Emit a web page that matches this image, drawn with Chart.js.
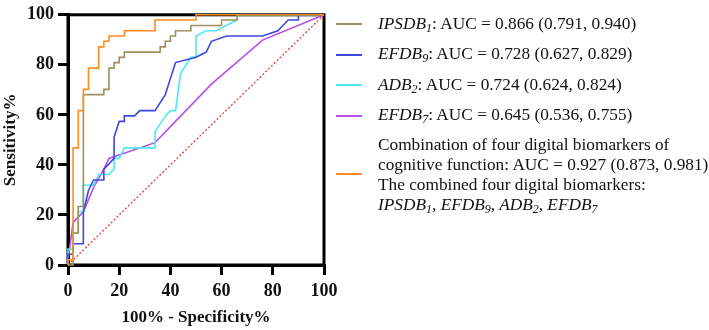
<!DOCTYPE html>
<html>
<head>
<meta charset="utf-8">
<script src="https://cdn.jsdelivr.net/npm/chart.js@4"></script>
<style>
  body { margin: 0; background: #fff; }
  #wrap { position: relative; width: 709px; height: 330px; }
  #legend { position: absolute; left: 0; top: 0; font-family: "Liberation Serif", serif; font-size: 17.3px; color: #111; }
  .row { position: absolute; left: 378px; line-height: 20px; white-space: nowrap; }
  .sw { position: absolute; left: 336px; width: 26px; height: 2px; }
  sub { font-size: 12px; vertical-align: -3px; line-height: 0; }
</style>
</head>
<body>
<div id="wrap">
  <canvas id="roc"></canvas>
  <div id="legend">
    <div class="sw" style="top:23px;background:#a08f5c"></div>
    <div class="row" style="top:14px"><i>IPSDB<sub>1</sub></i>: AUC = 0.866 (0.791, 0.940)</div>
    <div class="sw" style="top:54px;background:#3f48e0"></div>
    <div class="row" style="top:44px"><i>EFDB<sub>9</sub></i>: AUC = 0.728 (0.627, 0.829)</div>
    <div class="sw" style="top:84px;background:#4de8f5"></div>
    <div class="row" style="top:75px"><i>ADB<sub>2</sub></i>: AUC = 0.724 (0.624, 0.824)</div>
    <div class="sw" style="top:115px;background:#b84ee8"></div>
    <div class="row" style="top:105px"><i>EFDB<sub>7</sub></i>: AUC = 0.645 (0.536, 0.755)</div>
    <div class="sw" style="top:173px;background:#ff8c21"></div>
    <div class="row" style="top:135px">Combination of four digital biomarkers of<br>cognitive function: AUC = 0.927 (0.873, 0.981)<br>The combined four digital biomarkers:<br><i>IPSDB<sub>1</sub>, EFDB<sub>9</sub>, ADB<sub>2</sub>, EFDB<sub>7</sub></i></div>
  </div>
</div>
<script>
// ROC points, x = 100% - specificity, y = sensitivity
const ipsdbX = [0, 2, 2, 4, 4, 6, 6, 14, 14, 16, 16, 18, 18, 20, 20, 22, 22, 36, 36, 38, 38, 40, 40, 42, 42, 48, 48, 60, 60, 66, 66, 100];
const ipsdbY = [0, 0, 12.8, 12.8, 23.4, 23.4, 68.1, 68.1, 70.2, 70.2, 78.7, 78.7, 80.9, 80.9, 83.0, 83.0, 85.1, 85.1, 87.2, 87.2, 89.4, 89.4, 91.5, 91.5, 93.6, 93.6, 95.7, 95.7, 97.9, 97.9, 100, 100];

const efdb9X = [0, 0, 2, 2, 6, 6, 8, 10, 14, 14, 16, 18, 18, 20, 22, 22, 26, 28, 34, 38, 42, 50, 54, 56, 62, 76, 82, 86, 90, 90, 100];
const efdb9Y = [0, 4.3, 4.3, 8.5, 8.5, 21.3, 29.8, 34, 34, 38.3, 40.4, 42.6, 51.1, 57.4, 57.4, 59.6, 59.6, 61.7, 61.7, 68.1, 80.9, 83, 85.1, 89.4, 91.5, 91.5, 93.6, 97.9, 97.9, 100, 100];

const adb2X = [0, 0, 2, 2, 4, 4, 6, 6, 10, 12, 16, 18, 18, 20, 22, 34, 34, 38, 40, 42, 44, 48, 50, 50, 54, 58, 66, 66, 100];
const adb2Y = [0, 6.4, 6.4, 12.8, 12.8, 21.3, 21.3, 31.9, 31.9, 36.2, 36.2, 38.3, 42.6, 42.6, 46.8, 46.8, 53.2, 59.6, 61.7, 61.7, 76.6, 83, 83, 91.5, 93.6, 93.6, 97.9, 100, 100];

const efdb7X = [0, 0, 2, 6, 10, 14, 16, 34, 56, 76, 100];
const efdb7Y = [0, 2.1, 17, 21.3, 31, 38.3, 42.6, 48.9, 72.3, 89.9, 100];

const comboX = [0, 0, 2, 2, 4, 4, 6, 6, 8, 8, 12, 12, 14, 14, 16, 16, 22, 22, 34, 34, 50, 50, 100];
const comboY = [0, 2.1, 2.1, 46.8, 46.8, 61.7, 61.7, 70.2, 70.2, 78.7, 78.7, 87.2, 87.2, 89.4, 89.4, 91.5, 91.5, 93.6, 93.6, 97.9, 97.9, 100, 100];

const refX = [0, 100];
const refY = [0, 100];

const axisTicks = [0, 20, 40, 60, 80, 100];

function pts(xs, ys) {
    return xs.map((x, i) => ({ x: x, y: ys[i] }));
}

function line(data, color, extra) {
    return Object.assign({
        data: data,
        borderColor: color,
        backgroundColor: color,
        borderWidth: 1.6,
        pointRadius: 0,
        tension: 0,
        fill: false,
        clip: false
    }, extra || {});
}

const boxPlugin = {
    id: 'box',
    beforeDatasetsDraw(chart) {
        const a = chart.chartArea;
        const c = chart.ctx;
        c.save();
        c.strokeStyle = '#000';
        c.lineWidth = 3;
        c.strokeRect(a.left, a.top, a.right - a.left, a.bottom - a.top);
        c.restore();
    }
};

const tickFont = { family: 'Liberation Serif', size: 18, weight: 'bold' };
const titleFont = { family: 'Liberation Serif', size: 17, weight: 'bold' };

new Chart(document.getElementById('roc'), {
    type: 'line',
    data: {
        datasets: [
            line(pts(comboX, comboY), '#ff8c21'),
            line(pts(ipsdbX, ipsdbY), '#a08f5c'),
            line(pts(efdb9X, efdb9Y), '#3f48e0'),
            line(pts(adb2X, adb2Y), '#4de8f5'),
            line(pts(efdb7X, efdb7Y), '#b84ee8'),
            line(pts(refX, refY), '#e83a3a', { borderWidth: 1.3, borderDash: [2, 2] })
        ]
    },
    options: {
        responsive: true,
        maintainAspectRatio: false,
        animation: false,
        layout: { padding: { left: 0, top: 9, right: 385, bottom: 0 } },
        plugins: {
            legend: { display: false },
            tooltip: { enabled: false }
        },
        scales: {
            x: {
                type: 'linear',
                min: 0,
                max: 100,
                afterFit(s) { s.height = 65; },
                afterBuildTicks(s) { s.ticks = axisTicks.map(v => ({ value: v })); },
                border: { display: true, width: 3, color: '#000' },
                grid: { drawOnChartArea: false, drawTicks: true, tickLength: 10, lineWidth: 3, color: '#000' },
                ticks: { font: tickFont, color: '#111', padding: 6, maxRotation: 0 },
                title: { display: true, text: '100% - Specificity%', font: titleFont, color: '#111', padding: { top: 0, bottom: 2 } }
            },
            y: {
                type: 'linear',
                min: 0,
                max: 100,
                afterFit(s) { s.width = 68; },
                afterBuildTicks(s) { s.ticks = axisTicks.map(v => ({ value: v })); },
                border: { display: true, width: 3, color: '#000' },
                grid: { drawOnChartArea: false, drawTicks: true, tickLength: 10, lineWidth: 3, color: '#000' },
                ticks: { font: tickFont, color: '#111', padding: 4 },
                title: { display: true, text: 'Sensitivity%', font: titleFont, color: '#111', padding: { top: 0, bottom: 0 } }
            }
        }
    },
    plugins: [boxPlugin]
});
</script>
</body>
</html>
